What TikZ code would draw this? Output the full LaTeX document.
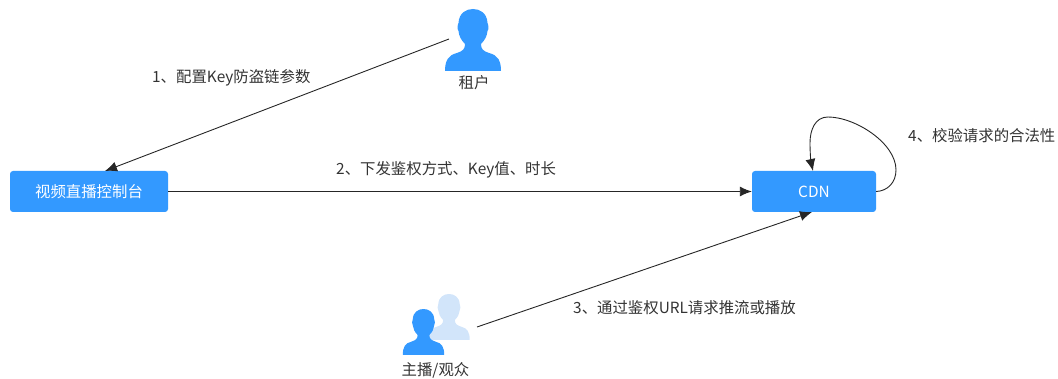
\documentclass[tikz,border=0pt]{standalone}
\usepackage{fontspec}
\usepackage{xcolor}
\setmainfont{Noto Sans CJK SC}
\usetikzlibrary{arrows.meta}
\definecolor{boxblue}{HTML}{3399FF}
\definecolor{lightblue}{HTML}{D2E5FA}
\definecolor{inkgray}{HTML}{333333}
\tikzset{
  stepbox/.style={draw=none,fill=boxblue,rounded corners=3pt,text=white,inner sep=0pt,font=\fontsize{15.4pt}{17pt}\selectfont},
  caption/.style={text=inkgray,inner sep=0pt,font=\fontsize{15.4pt}{17pt}\selectfont},
  flow/.style={draw=black!85,line width=0.9pt,-{Latex[length=12pt,width=10pt]}},
  pics/person/.style={code={
    \fill[#1] (-28,-62) -- (28,-62) .. controls (28,-52) and (25,-46) .. (16,-44)
      .. controls (10,-42) and (8,-40) .. (8,-35)
      .. controls (12,-31) and (14,-27) .. (14.5,-22)
      .. controls (16,-20) and (15.5,-16) .. (14.5,-14)
      .. controls (14,-4) and (7,0) .. (0,0)
      .. controls (-7,0) and (-14,-4) .. (-14.5,-14)
      .. controls (-15.5,-16) and (-16,-20) .. (-14.5,-22)
      .. controls (-14,-27) and (-12,-31) .. (-8,-35)
      .. controls (-8,-40) and (-10,-42) .. (-16,-44)
      .. controls (-25,-46) and (-28,-52) .. (-28,-62) -- cycle;
  }}
}
\begin{document}
\begin{tikzpicture}[x=1pt,y=1pt]
\useasboundingbox (0,0) rectangle (1058,378);
% Boxes
\node[stepbox,minimum width=158pt,minimum height=41pt] (console) at (89,186.5) {视频直播控制台};
\node[stepbox,minimum width=124pt,minimum height=41pt] (cdn) at (814,186.5) {CDN};
% Person icons
\pic at (473,369) {person=boxblue};
\pic[scale=0.74] at (449,84) {person=lightblue};
\pic[scale=0.74] at (423.5,69) {person=boxblue};
\node[caption] (tenant) at (474,295) {租户};
\node[caption] (viewer) at (435.5,8) {主播/观众};
% Connector ends
\coordinate (tenantend) at (449,339);
\coordinate (viewerend) at (477,51);
\coordinate (consoletop) at (105,207);
\coordinate (cdnbottom) at (812,166);
\coordinate (cdntop) at (813,207);
% Connectors
\draw[flow] (tenantend) -- (consoletop);
\draw[flow] (console.east) -- (cdn.west);
\draw[flow] (viewerend) -- (cdnbottom);
\draw[flow] (cdn.east) .. controls (888,187) and (896,196) .. (896,208)
  .. controls (896,235) and (855,261) .. (828,261)
  .. controls (815,261) and (810,248) .. (810,235)
  .. controls (810,225) and (811,216) .. (cdntop);
% Step labels
\node[caption,anchor=west] (stepone) at (152,300.5) {1、配置Key防盗链参数};
\node[caption,anchor=west] (steptwo) at (336,208.5) {2、下发鉴权方式、Key值、时长};
\node[caption,anchor=west] (stepthree) at (573,70.5) {3、通过鉴权URL请求推流或播放};
\node[caption,anchor=west] (stepfour) at (908,242.5) {4、校验请求的合法性};
\end{tikzpicture}
\end{document}
